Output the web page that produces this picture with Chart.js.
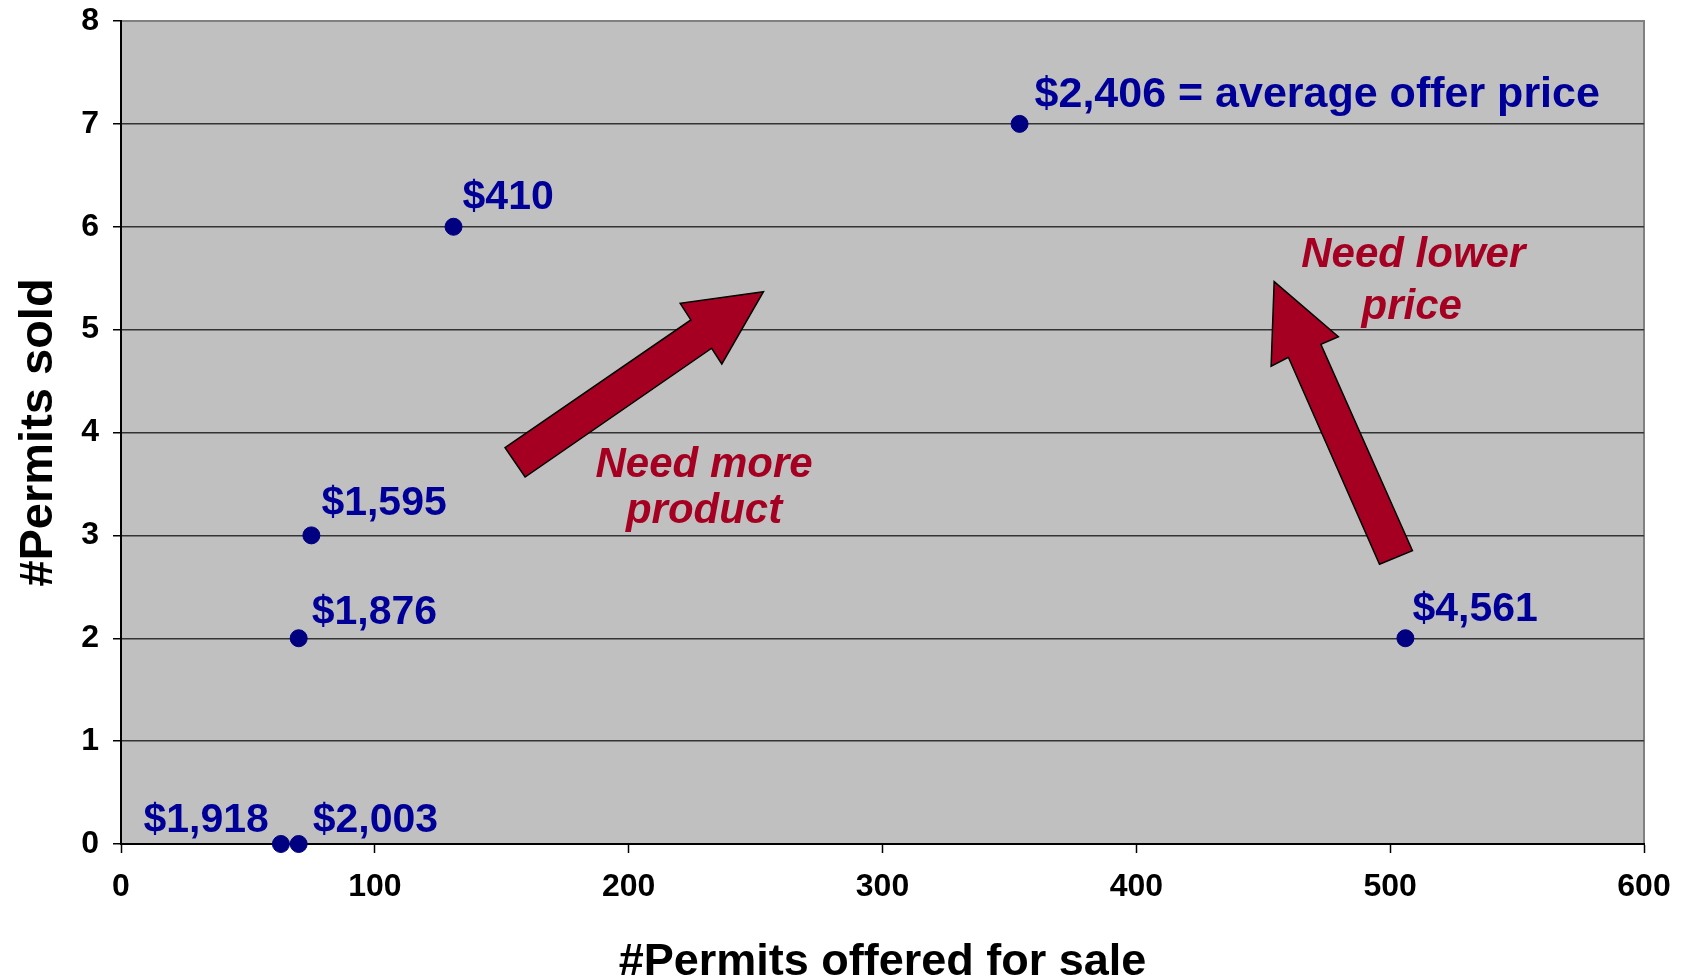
<!DOCTYPE html>
<html>
<head>
<meta charset="utf-8">
<script src="https://cdn.jsdelivr.net/npm/chart.js@4"></script>
<style>
  html, body { margin: 0; padding: 0; background: #fff; }
  #wrap { width: 1682px; height: 979px; }
</style>
</head>
<body>
<div id="wrap"><canvas id="permitChart"></canvas></div>
<script>
// data
const offered = [63, 70, 70, 75, 131, 354, 506];
const sold = [0, 0, 2, 3, 6, 7, 2];
const priceLabels = ["$1,918", "$2,003", "$1,876", "$1,595", "$410", "$2,406 = average offer price", "$4,561"];
const xTickValues = [0, 100, 200, 300, 400, 500, 600];
const yTickValues = [0, 1, 2, 3, 4, 5, 6, 7, 8];

// arrows + notes, in data units
const arrowMore = [[151.3, 3.852], [224.5, 5.094], [220.3, 5.256], [253.1, 5.369], [236.7, 4.666], [232.7, 4.819], [159.2, 3.567]];
const arrowLower = [[508.8, 2.851], [472.7, 4.857], [479.6, 4.931], [454.3, 5.466], [453.1, 4.645], [459.9, 4.731], [495.8, 2.719]];
const notes = [
  { text: "Need more", x: 229.7, y: 3.57 },
  { text: "product", x: 229.7, y: 3.12 },
  { text: "Need lower", x: 509.1, y: 5.606 },
  { text: "price", x: 508.5, y: 5.10 }
];

const FONT = '"Liberation Sans", Arial, sans-serif';
const DARK_RED = "#A50021";
const NAVY = "#000080";

// label placement next to each point (px)
const labelOffsets = [
  { dx: -12, dy: -12, align: "right", size: 41 },
  { dx: 14, dy: -12, align: "left", size: 41 },
  { dx: 13, dy: -14, align: "left", size: 41 },
  { dx: 10, dy: -20, align: "left", size: 41 },
  { dx: 9, dy: -18, align: "left", size: 41 },
  { dx: 15, dy: -17, align: "left", size: 43 },
  { dx: 7, dy: -17, align: "left", size: 41 }
];

function drawText(ctx, text, x, y, font, color, align, rotate) {
  ctx.save();
  ctx.translate(x, y);
  if (rotate) ctx.rotate(-Math.PI / 2);
  ctx.font = font;
  ctx.fillStyle = color;
  ctx.textAlign = align;
  ctx.textBaseline = "alphabetic";
  ctx.fillText(text, 0, 0);
  ctx.restore();
}

const plotBackground = {
  id: "plotBackground",
  beforeDraw(chart) {
    const { ctx, chartArea: a } = chart;
    ctx.save();
    ctx.fillStyle = "#C0C0C0";
    ctx.fillRect(a.left, a.top, a.right - a.left, a.bottom - a.top);
    ctx.strokeStyle = "#808080";
    ctx.lineWidth = 2;
    ctx.beginPath();
    ctx.moveTo(a.left, a.top);
    ctx.lineTo(a.right, a.top);
    ctx.lineTo(a.right, a.bottom);
    ctx.stroke();
    ctx.restore();
  }
};

const annotations = {
  id: "annotations",
  afterDatasetsDraw(chart) {
    const { ctx, scales: { x, y }, chartArea: a } = chart;

    // arrows
    [arrowMore, arrowLower].forEach((pts) => {
      ctx.save();
      ctx.beginPath();
      pts.forEach((p, i) => {
        const px = x.getPixelForValue(p[0]);
        const py = y.getPixelForValue(p[1]);
        if (i === 0) ctx.moveTo(px, py); else ctx.lineTo(px, py);
      });
      ctx.closePath();
      ctx.fillStyle = DARK_RED;
      ctx.fill();
      ctx.strokeStyle = "#000";
      ctx.lineWidth = 1.5;
      ctx.stroke();
      ctx.restore();
    });

    notes.forEach((n) => {
      drawText(ctx, n.text, x.getPixelForValue(n.x), y.getPixelForValue(n.y),
        "italic bold 42px " + FONT, DARK_RED, "center", false);
    });

    // price labels next to the points
    const meta = chart.getDatasetMeta(0);
    meta.data.forEach((pt, i) => {
      const o = labelOffsets[i];
      drawText(ctx, priceLabels[i], pt.x + o.dx, pt.y + o.dy,
        "bold " + o.size + "px " + FONT, "#000099", o.align, false);
    });

    // axis titles
    drawText(ctx, "#Permits offered for sale", (a.left + a.right) / 2, chart.height - 4,
      "bold 45px " + FONT, "#000", "center", false);
    drawText(ctx, "#Permits sold", 52, (a.top + a.bottom) / 2,
      "bold 47px " + FONT, "#000", "center", true);
  }
};

new Chart(document.getElementById("permitChart"), {
  type: "scatter",
  data: {
    datasets: [
      {
        label: "Permits",
        data: offered.map((v, i) => ({ x: v, y: sold[i] })),
        backgroundColor: NAVY,
        borderColor: NAVY,
        pointRadius: 8.5,
        pointHoverRadius: 8.5,
        clip: false
      }
    ]
  },
  options: {
    responsive: true,
    maintainAspectRatio: false,
    animation: false,
    layout: { padding: { top: 21, right: 38, left: 0, bottom: 0 } },
    plugins: {
      legend: { display: false },
      tooltip: { enabled: false }
    },
    scales: {
      x: {
        type: "linear",
        min: 0,
        max: 600,
        afterBuildTicks: (s) => { s.ticks = xTickValues.map((v) => ({ value: v })); },
        afterFit: (s) => {
          s.height = 135;
          s.paddingLeft = 0;
          s.paddingRight = 0;
        },
        ticks: {
          font: { family: FONT, size: 32, weight: "bold" },
          color: "#000",
          padding: 15
        },
        grid: {
          drawOnChartArea: false,
          drawTicks: true,
          tickLength: 9,
          tickColor: "#000",
          tickWidth: 1.5
        },
        border: { color: "#000", width: 2 }
      },
      y: {
        type: "linear",
        min: 0,
        max: 8,
        afterBuildTicks: (s) => { s.ticks = yTickValues.map((v) => ({ value: v })); },
        afterFit: (s) => {
          s.width = 121;
          s.paddingTop = 0;
          s.paddingBottom = 0;
        },
        ticks: {
          font: { family: FONT, size: 32, weight: "bold" },
          color: "#000",
          padding: 14
        },
        grid: {
          color: (c) => (c.tick && c.tick.value === 8 ? "#808080" : "#333"),
          lineWidth: 1.5,
          tickLength: 8,
          tickColor: "#000",
          tickWidth: 1.5
        },
        border: { color: "#000", width: 2 }
      }
    }
  },
  plugins: [plotBackground, annotations]
});
</script>
</body>
</html>
